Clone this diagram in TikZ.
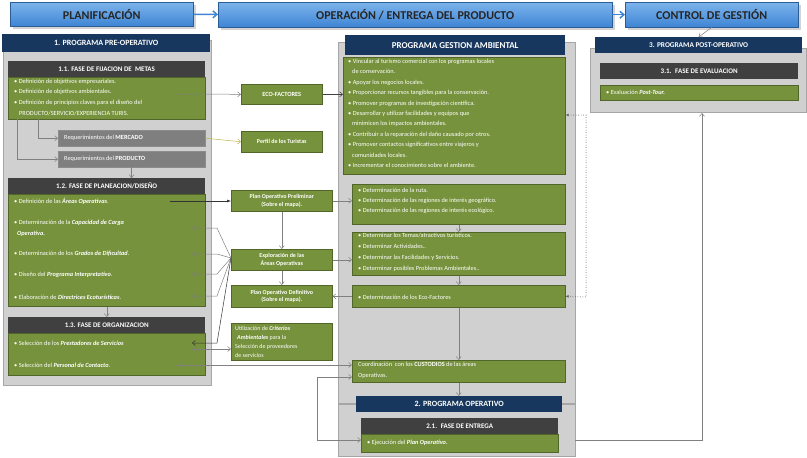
\documentclass[tikz,border=0pt]{standalone}
\usepackage{fontspec}
\setmainfont{Carlito}
\usetikzlibrary{arrows.meta,shadows}
\definecolor{gr}{RGB}{118,146,60}
\definecolor{navy}{RGB}{23,55,94}
\definecolor{dk}{RGB}{64,64,64}
\definecolor{pg}{RGB}{208,208,208}
\definecolor{rq}{RGB}{127,127,127}
\definecolor{bl1}{RGB}{125,180,236}
\definecolor{bl2}{RGB}{62,133,212}
\newcommand\bx[6]{\pgfmathsetmacro\bw{#4-#2}\pgfmathsetmacro\bh{#5-#3}%
  \node[#6,anchor=north west,minimum width=\bw pt,minimum height=\bh pt,inner sep=0pt] (#1) at (#2,#3) {};}
\newcommand\tx[4]{\node[txt,anchor=west] (#1) at (#2,#3) {#4};}
\begin{document}
\begin{tikzpicture}[x=1pt,y=-1pt,
  txt/.style={text=white,font=\fontsize{6.3}{7.5}\selectfont,inner sep=0pt},
  green/.style={fill=gr,draw=gr!70!black,line width=0.6pt},
  navyb/.style={fill=navy,draw=none},
  dark/.style={fill=dk,draw=none},
  panel/.style={fill=pg,draw=black!35,line width=1.2pt},
  reqb/.style={fill=rq,draw=black!45},
  banner/.style={top color=bl1,bottom color=bl2,draw=bl2!70!black,drop shadow={opacity=0.35}},
  ttl/.style={text=black!85,font=\bfseries\fontsize{12}{12}\selectfont},
  hd/.style={text=white,font=\bfseries\fontsize{8}{9}\selectfont},
  shd/.style={text=white,font=\bfseries\fontsize{7}{8}\selectfont},
  cn/.style={draw=black!50,line width=0.5pt,-{Straight Barb[length=3pt,width=5pt]}},
  cnn/.style={draw=black!50,line width=0.5pt}]
\useasboundingbox (0,0) rectangle (807,458);
% banners
\bx{plan}{10}{2}{193}{26}{banner}
\node[ttl] at (plan) {PLANIFICACIÓN};
\bx{oper}{218}{2}{612}{27}{banner}
\node[ttl] at (oper) {OPERACIÓN / ENTREGA DEL PRODUCTO};
\bx{ctrl}{625}{2}{798}{27}{banner}
\node[ttl] at (ctrl) {CONTROL DE GESTIÓN};
\draw[-{Straight Barb[length=4pt,width=7pt]},draw=bl2,line width=1.5pt] (plan) -- (oper);
\draw[-{Straight Barb[length=4pt,width=7pt]},draw=bl2,line width=1.5pt] (oper) -- (ctrl);
% left panel
\bx{lp}{3}{40}{211}{385}{panel}
\bx{lph}{2}{34}{210}{52}{navyb}
\node[hd] at (lph) {1. PROGRAMA PRE-OPERATIVO};
\bx{h11}{8}{61}{205}{77}{dark}
\node[shd] at (h11) {1.1. FASE DE FIJACION DE \ METAS};
\bx{g11}{8}{77}{205}{119}{green}
\tx{a1}{14}{82}{• Definición de objetivos empresariales.}
\tx{a2}{14}{92}{• Definición de objetivos ambientales.}
\tx{a3}{14}{103}{• Definición de principios claves para el diseño del}
\tx{a4}{19}{113}{PRODUCTO/SERVICIO/EXPERIENCIA TURIS.}
\bx{rm}{58}{130}{205}{146}{reqb}
\tx{rmt}{64}{138}{Requerimientos del \textbf{MERCADO}}
\bx{rp}{58}{151}{205}{167}{reqb}
\tx{rpt}{64}{159}{Requerimientos del \textbf{PRODUCTO}}
\bx{h12}{8}{178}{205}{194}{dark}
\node[shd] at (h12) {1.2. FASE DE PLANEACION/DISEÑO};
\bx{g12}{8}{194}{205}{306}{green}
\tx{b1}{14}{201}{• Definición de las \textbf{\itshape Áreas Operativas}.}
\tx{b2}{14}{223}{• Determinación de la \textbf{\itshape Capacidad de Carga}}
\tx{b2b}{17}{234}{\textbf{\itshape Operativa.}}
\tx{b3}{14}{254}{• Determinación de los \textbf{\itshape Grados de Dificultad}.}
\tx{b4}{14}{275}{• Diseño del \textbf{\itshape Programa Interpretativo}.}
\tx{b5}{14}{297}{• Elaboración de \textbf{\itshape Directrices Ecoturísticas}.}
\bx{h13}{8}{317}{205}{333}{dark}
\node[shd] at (h13) {1.3. FASE DE ORGANIZACION};
\bx{g13}{8}{333}{205}{375}{green}
\tx{c1}{14}{343}{• Selección de los \textbf{\itshape Prestadores de Servicios}}
\tx{c2}{14}{365}{• Selección del \textbf{\itshape Personal de Contacto}.}
% middle column boxes
\bx{eco}{241}{84}{322}{104}{green}
\node[txt,font=\bfseries\fontsize{6.3}{7.5}\selectfont] at (eco) {ECO-FACTORES};
\bx{perf}{241}{131}{322}{152}{green}
\node[txt,font=\bfseries\fontsize{6}{7}\selectfont] at (perf) {Perfil de los Turistas};
\bx{ppre}{231}{190}{332}{211}{green}
\node[txt,font=\bfseries\fontsize{6}{7.5}\selectfont,align=center] at (ppre) {Plan Operativo Preliminar\\(Sobre el mapa).};
\bx{expl}{231}{249}{332}{270}{green}
\node[txt,font=\bfseries\fontsize{6}{7.5}\selectfont,align=center] at (expl) {Exploración de las\\Áreas Operativas};
\bx{pdef}{231}{285}{332}{307}{green}
\node[txt,font=\bfseries\fontsize{6}{7.5}\selectfont,align=center] at (pdef) {Plan Operativo Definitivo\\(Sobre el mapa).};
\bx{util}{231}{323}{332}{360}{green}
\node[txt,anchor=north west,align=left,font=\fontsize{6}{9}\selectfont] at (235,326) {Utilización de \textbf{\itshape Criterios}\\\hspace*{2pt}\textbf{\itshape Ambientales} para la\\Selección de proveedores\\de servicios};
% middle panel
\bx{mp}{338}{42}{575}{403}{panel}
\bx{mph}{345}{35}{565}{55}{navyb}
\node[hd,font=\bfseries\fontsize{9}{10}\selectfont] at (mph) {PROGRAMA GESTION AMBIENTAL};
\bx{gbig}{343}{57}{565}{174}{green}
\node[txt,anchor=north west,align=left,font=\fontsize{6.3}{10.4}\selectfont] at (348,59) {• Vincular al turismo comercial con los programas locales\\\hspace*{4pt}de conservación.\\• Apoyar los negocios locales.\\• Proporcionar recursos tangibles para la conservación.\\• Promover programas de investigación científica.\\• Desarrollar y utilizar facilidades y equipos que\\\hspace*{4pt}minimicen los impactos ambientales.\\• Contribuir a la reparación del daño causado por otros.\\• Promover contactos significativos entre viajeros y\\\hspace*{4pt}comunidades locales.\\• Incrementar el conocimiento sobre el ambiente.};
\bx{g2}{352}{184}{565}{224}{green}
\node[txt,anchor=north west,align=left,font=\fontsize{6.3}{10.2}\selectfont] at (358,188) {• Determinación de la ruta.\\• Determinación de las regiones de interés geográfico.\\• Determinación de las regiones de interés ecológico.};
\bx{g3}{352}{232}{565}{275}{green}
\node[txt,anchor=north west,align=left,font=\fontsize{6.3}{10.9}\selectfont] at (358,233) {• Determinar los Temas/atractivos turísticos.\\• Determinar Actividades..\\• Determinar las Facilidades y Servicios.\\• Determinar posibles Problemas Ambientales..};
\bx{g4}{352}{285}{565}{307}{green}
\tx{g4t}{358}{297}{• Determinación de los Eco-Factores}
\bx{coord}{352}{360}{565}{382}{green}
\node[txt,anchor=north west,align=left,font=\fontsize{6.3}{11}\selectfont] at (358,362) {Coordinación \ con los \textbf{CUSTODIOS} de las áreas\\Operativas.};
% lower panel
\bx{lowp}{338}{404}{575}{456}{panel}
\bx{h2}{356}{396}{562}{412}{navyb}
\node[hd] at (h2) {2. PROGRAMA OPERATIVO};
\bx{h21}{361}{418}{558}{434}{dark}
\node[shd] at (h21) {2.1. \ FASE DE ENTREGA};
\bx{g21}{361}{434}{558}{452}{green}
\tx{e1}{367}{443}{• Ejecución del \textbf{\itshape Plan Operativo.}}
% right panel
\bx{rpn}{590}{48}{806}{112}{panel}
\bx{rph}{595}{37}{802}{53}{navyb}
\node[shd,font=\bfseries\fontsize{7.3}{8}\selectfont] at (rph) {3. PROGRAMA POST-OPERATIVO};
\bx{h31}{600}{63}{798}{79}{dark}
\node[shd] at (h31) {3.1. \ FASE DE EVALUACION};
\bx{g31}{600}{85}{798}{100}{green}
\tx{f1}{606}{92}{• Evaluación \textbf{\itshape Post-Tour.}}
% connectors
\draw[cn] (ctrl.south) -- (rph.north);
\draw[cn] (175,94) -- (eco.west);
\draw[cn,draw=black!75] (eco.east) -- (gbig.west|-eco.east);
\draw[cn] (38,119) |- (rm.west);
\draw[cn] (17,119) |- (rp.west);
\draw[cn,draw=olive!60] (rm.east) -- (perf.west);
\draw[cn] (rp.south) -- (h12.north-|rp.south);
\draw[cn] (g11.south|-g12.south) ++(0,0) -- (h13.north-|g11.south);
\draw[cnn,draw=black!80,-{Latex[length=4pt,width=3pt]}] (170,201) -- (ppre.west|-170,201);
\draw[cn] (ppre.east) -- (g2.west|-ppre.east);
\draw[cn] (ppre.south) -- (expl.north);
\draw[cn] (expl.south) -- (pdef.north);
\draw[cn] (expl.east) -- (g3.west|-expl.east);
\draw[cn] (g4.west) -- (pdef.east);
\draw[cn] (g2.south) -- (g3.north);
\draw[cn] (g3.south) -- (g3.south|-g4.north);
\draw[cn] (g3.south|-g4.south) -- (g3.south|-coord.north);
\draw[cn] (g3.south|-coord.south) -- (g3.south|-h2.north);
\coordinate (ex) at (231,258);
\foreach \yy in {228,254,274,296}{\draw[cn] (ex) -- (217,\yy) -- (192,\yy);}
\draw[cn,draw=black!80] (ex) -- (217,343) -- (192,343);
\draw[cnn,{Straight Barb[length=3pt,width=5pt]}-{Straight Barb[length=3pt,width=5pt]}] (192,349) -- (util.west|-192,349);
\draw[cnn,{Straight Barb[length=3pt,width=5pt]}-{Straight Barb[length=3pt,width=5pt]}] (177,365) -- (coord.west|-177,365);
\draw[cnn,{Straight Barb[length=3pt,width=5pt]}-{Straight Barb[length=3pt,width=5pt]}] (coord.west|-0,377) -- (317,377) -- (317,440) -- (g21.west|-0,440);
\draw[cnn,dotted,line width=1pt,draw=black!60,{Latex[length=3pt,width=3pt]}-{Latex[length=3pt,width=3pt]}] (gbig.east|-0,115) -- (586,115) -- (586,297) -- (g4.east);
\draw[cn] (575,440) -- (702,440) -- (702,113);
\end{tikzpicture}
\end{document}
